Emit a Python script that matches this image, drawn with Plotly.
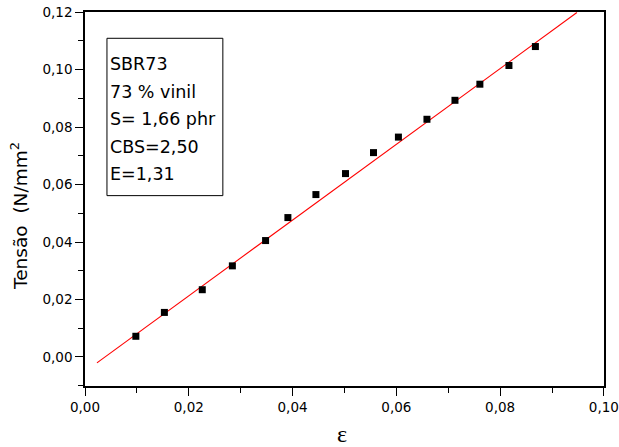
import plotly.graph_objects as go

# Data
strain = [0.0098, 0.0153, 0.0226, 0.0284, 0.0348, 0.0391, 0.0445, 0.0502,
          0.0556, 0.0604, 0.0659, 0.0713, 0.0761, 0.0817, 0.0868]
stress = [0.0072, 0.0155, 0.0234, 0.0317, 0.0405, 0.0485, 0.0565, 0.0638,
          0.0711, 0.0765, 0.0827, 0.0893, 0.0949, 0.1014, 0.1080]

# Linear fit parameters
fit_slope = 1.318
fit_intercept = -0.0051
fit_x = [0.0023, 0.0948]
fit_y = [fit_slope * x + fit_intercept for x in fit_x]

x_ticks = [0.00, 0.02, 0.04, 0.06, 0.08, 0.10]
x_minor = [0.01, 0.03, 0.05, 0.07, 0.09]
y_ticks = [0.00, 0.02, 0.04, 0.06, 0.08, 0.10, 0.12]
y_minor = [-0.01, 0.01, 0.03, 0.05, 0.07, 0.09, 0.11]

box_lines = ["SBR73", "73 % vinil", "S= 1,66 phr", "CBS=2,50", "E=1,31"]

FONT = "DejaVu Sans, Liberation Sans, Arial, sans-serif"

fig = go.Figure()
fig.add_trace(go.Scatter(x=fit_x, y=fit_y, mode="lines",
                         line=dict(color="#ff0000", width=1.1),
                         showlegend=False, hoverinfo="skip"))
fig.add_trace(go.Scatter(x=strain, y=stress, mode="markers",
                         marker=dict(symbol="square", size=7, color="black",
                                     line=dict(width=0)),
                         showlegend=False))

axis_common = dict(
    showgrid=False, zeroline=False, showline=True, linecolor="black",
    linewidth=1.5, mirror=True, ticks="outside", ticklen=8, tickwidth=1.2,
    tickcolor="black", tickformat=".2f", tickmode="array",
    ticklabeloverflow="allow", automargin=False,
    tickfont=dict(family=FONT, size=13.5, color="black"),
)

fig.update_layout(
    width=619, height=447,
    margin=dict(l=85, r=15, t=12, b=61),
    paper_bgcolor="white", plot_bgcolor="white",
    separators=",.",
    font=dict(family=FONT, color="black"),
    xaxis=dict(range=[0, 0.10002], tickvals=x_ticks,
               minor=dict(tickmode="array", tickvals=x_minor, ticks="outside",
                          ticklen=5, tickcolor="black", tickwidth=1.2),
               **axis_common),
    yaxis=dict(range=[-0.0101, 0.12002], tickvals=y_ticks,
               minor=dict(tickmode="array", tickvals=y_minor, ticks="outside",
                          ticklen=5, tickcolor="black", tickwidth=1.2),
               **axis_common),
)

# Text box
fig.add_shape(type="rect", xref="paper", yref="paper",
              x0=0.0423, x1=0.2656, y0=0.509, y1=0.9297,
              line=dict(color="black", width=1), fillcolor="white", layer="above")
line_ys = [0.8604, 0.7862, 0.7133, 0.6401, 0.5672]
for txt, yy in zip(box_lines, line_ys):
    fig.add_annotation(text=txt, xref="paper", yref="paper", x=0.0445, y=yy,
                       xanchor="left", yanchor="middle", showarrow=False,
                       font=dict(family=FONT, size=17.5, color="black"))

# Axis titles
fig.add_annotation(text="ε", xref="paper", yref="paper", x=0.495, y=-0.129,
                   xanchor="center", yanchor="middle", showarrow=False,
                   font=dict(family="Liberation Serif, Times New Roman, serif",
                             size=24, color="black"))
fig.add_annotation(text="Tensão  (N/mm<sup>2</sup>", xref="paper", yref="paper",
                   x=-0.127, y=0.455, textangle=-90,
                   xanchor="center", yanchor="middle", showarrow=False,
                   font=dict(family=FONT, size=18.5, color="black"))

fig.write_html("out.html")
